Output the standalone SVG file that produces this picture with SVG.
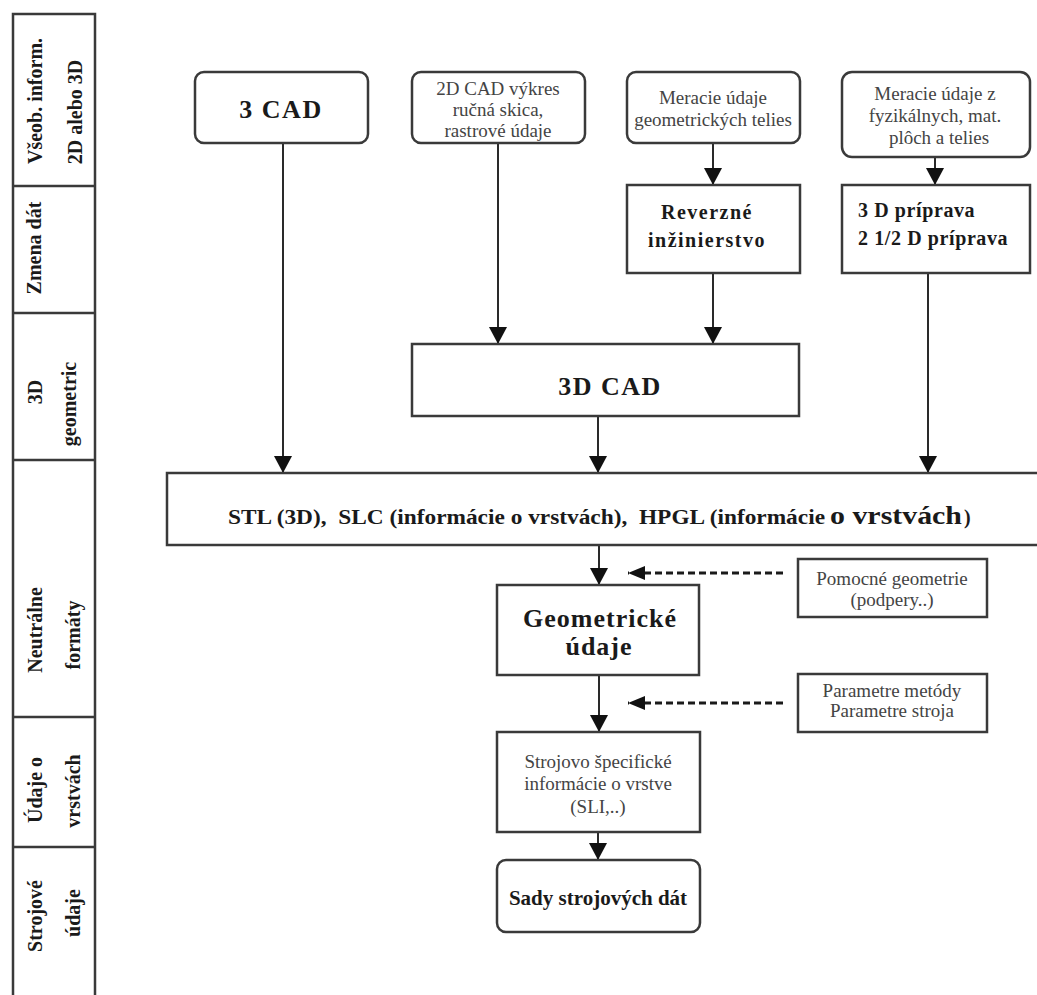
<svg xmlns="http://www.w3.org/2000/svg" width="1037" height="995" viewBox="0 0 1037 995">
<style>
.bx{fill:#fff;stroke:#3a3a3a;stroke-width:2.5}
.ln{stroke:#2a2a2a;stroke-width:2;fill:none}
.dl{stroke:#1a1a1a;stroke-width:3;fill:none;stroke-dasharray:7 4}
.col{stroke:#3a3a3a;stroke-width:2.5;fill:none}
.lab{font-family:"Liberation Serif",serif;font-weight:bold;font-size:20px;fill:#1a1a1a;text-anchor:middle}
.t{font-family:"Liberation Serif",serif;font-size:19px;fill:#444;text-anchor:middle}
.b{font-family:"Liberation Serif",serif;font-weight:bold;fill:#1a1a1a;text-anchor:middle}
.pre{white-space:pre}
</style>
<defs>
<marker id="ah" viewBox="0 0 10 10" refX="10" refY="5" markerWidth="17" markerHeight="18" markerUnits="userSpaceOnUse" orient="auto" preserveAspectRatio="none">
<path d="M0,0 L10,5 L0,10 z" fill="#111"/>
</marker>
<marker id="ahd" viewBox="0 0 10 10" refX="10" refY="5" markerWidth="17" markerHeight="14" markerUnits="userSpaceOnUse" orient="auto" preserveAspectRatio="none">
<path d="M0,0 L10,5 L0,10 z" fill="#111"/>
</marker>
</defs>
<rect width="1037" height="995" fill="#fff"/>

<g id="lanes">
<path class="col" d="M13,995 L13,14 L95,14 L95,995 M13,186 L95,186 M13,313 L95,313 M13,460 L95,460 M13,717 L95,717 M13,847 L95,847"/>
<text class="lab" transform="translate(42,101) rotate(-90)">Všeob. inform.</text>
<text class="lab" transform="translate(82,112) rotate(-90)">2D alebo 3D</text>
<text class="lab" transform="translate(41,248) rotate(-90)">Zmena dát</text>
<text class="lab" transform="translate(42,392) rotate(-90)">3D</text>
<text class="lab" transform="translate(76,404) rotate(-90)" font-size="18">geometric</text>
<text class="lab" transform="translate(42,630) rotate(-90)">Neutrálne</text>
<text class="lab" transform="translate(80,635) rotate(-90)">formáty</text>
<text class="lab" transform="translate(42,790) rotate(-90)">Údaje o</text>
<text class="lab" transform="translate(80,791) rotate(-90)">vrstvách</text>
<text class="lab" transform="translate(42,916) rotate(-90)">Strojové</text>
<text class="lab" transform="translate(80,913) rotate(-90)">údaje</text>
</g>

<g id="connectors">
<path class="ln" marker-end="url(#ah)" d="M283,143 L283,473"/>
<path class="ln" marker-end="url(#ah)" d="M498,143 L498,344"/>
<path class="ln" marker-end="url(#ah)" d="M713,143 L713,185"/>
<path class="ln" marker-end="url(#ah)" d="M713,273 L713,344"/>
<path class="ln" marker-end="url(#ah)" d="M935,157 L935,185"/>
<path class="ln" marker-end="url(#ah)" d="M928,273 L928,473"/>
<path class="ln" marker-end="url(#ah)" d="M598,416 L598,473"/>
<path class="ln" marker-end="url(#ah)" d="M599,545 L599,585"/>
<path class="dl" marker-end="url(#ahd)" d="M783,573 L628,573"/>
<path class="ln" marker-end="url(#ah)" d="M599,675 L599,732"/>
<path class="dl" marker-end="url(#ahd)" d="M783,703 L628,703"/>
<path class="ln" marker-end="url(#ah)" d="M598,832 L598,860"/>
</g>

<g id="n3cad">
<rect class="bx" x="195" y="72" width="173" height="71" rx="9"/>
<text class="b" x="281" y="118" font-size="26" letter-spacing="1.5">3 CAD</text>
</g>
<g id="n2dcad">
<rect class="bx" x="412" y="72" width="173" height="71" rx="9"/>
<text class="t" x="498" y="95" font-size="18">2D CAD výkres</text>
<text class="t" x="498" y="116" font-size="18">ručná skica,</text>
<text class="t" x="498" y="137" font-size="18">rastrové údaje</text>
</g>
<g id="nmerGeo">
<rect class="bx" x="627" y="72" width="173" height="71" rx="9"/>
<text class="t" x="713" y="104">Meracie údaje</text>
<text class="t" x="713" y="126">geometrických telies</text>
</g>
<g id="nrev">
<rect class="bx" x="627" y="185" width="173" height="88"/>
<text class="b" x="707" y="219" font-size="20" letter-spacing="1.5">Reverzné</text>
<text class="b" x="707" y="247" font-size="20" letter-spacing="1.5">inžinierstvo</text>
</g>
<g id="nmerFyz">
<rect class="bx" x="842" y="72" width="188" height="85" rx="10"/>
<text class="t" x="935" y="100">Meracie údaje z</text>
<text class="t" x="935" y="122">fyzikálnych, mat.</text>
<text class="t" x="939" y="144">plôch a telies</text>
</g>
<g id="nprip">
<rect class="bx" x="842" y="185" width="188" height="88"/>
<text class="b" x="858" y="217" font-size="20" letter-spacing="0.6" style="text-anchor:start">3 D príprava</text>
<text class="b" x="858" y="245" font-size="20" letter-spacing="0.6" style="text-anchor:start">2 1/2 D príprava</text>
</g>
<g id="n3dcad">
<rect class="bx" x="412" y="344" width="387" height="72"/>
<text class="b" x="610" y="395" font-size="26" letter-spacing="1.5">3D CAD</text>
</g>
<g id="nstl">
<rect class="bx" x="167" y="473" width="880" height="72"/>
<text class="b pre" x="228" y="524" font-size="20" style="text-anchor:start" textLength="597" lengthAdjust="spacingAndGlyphs">STL (3D),  SLC (informácie o vrstvách),  HPGL (informácie</text>
<text class="b" x="830" y="524" font-size="26" style="text-anchor:start" textLength="132" lengthAdjust="spacingAndGlyphs">o vrstvách</text>
<text class="b" x="964" y="524" font-size="20" style="text-anchor:start">)</text>
</g>
<g id="ngeom">
<rect class="bx" x="497" y="585" width="202" height="90"/>
<text class="b" x="600" y="627" font-size="26" letter-spacing="1">Geometrické</text>
<text class="b" x="599" y="655" font-size="26" letter-spacing="1">údaje</text>
</g>
<g id="npom">
<rect class="bx" x="798" y="559" width="189" height="58"/>
<text class="t" x="892" y="585">Pomocné geometrie</text>
<text class="t" x="892" y="606">(podpery..)</text>
</g>
<g id="nparam">
<rect class="bx" x="798" y="674" width="189" height="58"/>
<text class="t" x="892" y="697">Parametre metódy</text>
<text class="t" x="892" y="717">Parametre stroja</text>
</g>
<g id="nstroj">
<rect class="bx" x="497" y="732" width="203" height="100"/>
<text class="t" x="598" y="768">Strojovo špecifické</text>
<text class="t" x="598" y="790">informácie o vrstve</text>
<text class="t" x="598" y="813">(SLI,..)</text>
</g>
<g id="nsady">
<rect class="bx" x="497" y="860" width="203" height="72" rx="9"/>
<text class="b" x="598" y="905" font-size="21">Sady strojových dát</text>
</g>
</svg>
